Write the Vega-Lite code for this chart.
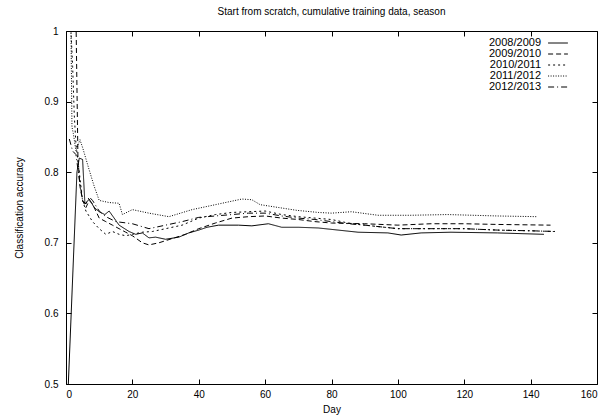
{
  "$schema": "https://vega.github.io/schema/vega-lite/v6.json",
  "width": 531,
  "height": 353,
  "autosize": "none",
  "padding": {"left": 66, "top": 31, "right": 11, "bottom": 35},
  "background": "white",
  "title": {"text": "Start from scratch, cumulative training data, season", "font": "Liberation Sans", "fontSize": 10, "fontWeight": "normal", "color": "black", "offset": 9},
  "config": {
    "view": {"stroke": null},
    "font": "Liberation Sans",
    "axis": {"grid": false, "domainColor": "black", "tickColor": "black", "labelColor": "black", "titleColor": "black", "labelFont": "Liberation Sans", "titleFont": "Liberation Sans", "labelFontSize": 10, "titleFontSize": 10, "titleFontWeight": "normal", "tickSize": -5, "domainWidth": 1, "tickWidth": 1}
  },
  "data": {"values": [
    {"s":"2008/2009","d":0.7,"v":0.5},{"s":"2008/2009","d":3.3,"v":0.8},{"s":"2008/2009","d":4,"v":0.82},{"s":"2008/2009","d":5,"v":0.818},{"s":"2008/2009","d":5.7,"v":0.755},{"s":"2008/2009","d":7,"v":0.762},{"s":"2008/2009","d":8.5,"v":0.75},{"s":"2008/2009","d":10,"v":0.744},{"s":"2008/2009","d":11.7,"v":0.74},{"s":"2008/2009","d":13,"v":0.745},{"s":"2008/2009","d":14.5,"v":0.735},{"s":"2008/2009","d":16,"v":0.725},{"s":"2008/2009","d":19,"v":0.716},{"s":"2008/2009","d":21,"v":0.712},{"s":"2008/2009","d":23,"v":0.714},{"s":"2008/2009","d":25,"v":0.707},{"s":"2008/2009","d":27,"v":0.708},{"s":"2008/2009","d":30,"v":0.705},{"s":"2008/2009","d":34,"v":0.708},{"s":"2008/2009","d":37,"v":0.714},{"s":"2008/2009","d":40,"v":0.718},{"s":"2008/2009","d":42.5,"v":0.722},{"s":"2008/2009","d":46,"v":0.725},{"s":"2008/2009","d":52,"v":0.725},{"s":"2008/2009","d":56,"v":0.724},{"s":"2008/2009","d":61,"v":0.727},{"s":"2008/2009","d":65,"v":0.722},{"s":"2008/2009","d":70,"v":0.722},{"s":"2008/2009","d":76,"v":0.721},{"s":"2008/2009","d":82,"v":0.718},{"s":"2008/2009","d":88,"v":0.715},{"s":"2008/2009","d":97,"v":0.714},{"s":"2008/2009","d":101,"v":0.711},{"s":"2008/2009","d":107,"v":0.714},{"s":"2008/2009","d":116,"v":0.715},{"s":"2008/2009","d":130,"v":0.714},{"s":"2008/2009","d":144,"v":0.712},

    {"s":"2009/2010","d":1,"v":1.1},{"s":"2009/2010","d":2,"v":1.05},{"s":"2009/2010","d":3,"v":1.02},{"s":"2009/2010","d":3.6,"v":0.82},{"s":"2009/2010","d":4.2,"v":0.78},{"s":"2009/2010","d":5,"v":0.76},{"s":"2009/2010","d":6,"v":0.75},{"s":"2009/2010","d":7,"v":0.76},{"s":"2009/2010","d":8,"v":0.755},{"s":"2009/2010","d":10,"v":0.735},{"s":"2009/2010","d":12,"v":0.73},{"s":"2009/2010","d":14,"v":0.725},{"s":"2009/2010","d":16,"v":0.72},{"s":"2009/2010","d":18,"v":0.715},{"s":"2009/2010","d":20,"v":0.71},{"s":"2009/2010","d":23,"v":0.7},{"s":"2009/2010","d":25,"v":0.697},{"s":"2009/2010","d":28,"v":0.7},{"s":"2009/2010","d":32,"v":0.706},{"s":"2009/2010","d":36,"v":0.712},{"s":"2009/2010","d":40,"v":0.72},{"s":"2009/2010","d":45,"v":0.728},{"s":"2009/2010","d":50,"v":0.735},{"s":"2009/2010","d":55,"v":0.737},{"s":"2009/2010","d":60,"v":0.738},{"s":"2009/2010","d":65,"v":0.735},{"s":"2009/2010","d":70,"v":0.733},{"s":"2009/2010","d":75,"v":0.73},{"s":"2009/2010","d":80,"v":0.728},{"s":"2009/2010","d":90,"v":0.727},{"s":"2009/2010","d":100,"v":0.725},{"s":"2009/2010","d":110,"v":0.727},{"s":"2009/2010","d":120,"v":0.727},{"s":"2009/2010","d":130,"v":0.726},{"s":"2009/2010","d":146,"v":0.725},

    {"s":"2010/2011","d":1,"v":1.05},{"s":"2010/2011","d":2,"v":0.95},{"s":"2010/2011","d":2.5,"v":0.88},{"s":"2010/2011","d":3,"v":0.84},{"s":"2010/2011","d":4,"v":0.8},{"s":"2010/2011","d":5,"v":0.76},{"s":"2010/2011","d":6,"v":0.745},{"s":"2010/2011","d":8,"v":0.73},{"s":"2010/2011","d":10,"v":0.72},{"s":"2010/2011","d":12,"v":0.712},{"s":"2010/2011","d":14,"v":0.716},{"s":"2010/2011","d":16,"v":0.712},{"s":"2010/2011","d":18,"v":0.71},{"s":"2010/2011","d":20,"v":0.712},{"s":"2010/2011","d":23,"v":0.715},{"s":"2010/2011","d":26,"v":0.716},{"s":"2010/2011","d":30,"v":0.72},{"s":"2010/2011","d":35,"v":0.725},{"s":"2010/2011","d":40,"v":0.735},{"s":"2010/2011","d":45,"v":0.74},{"s":"2010/2011","d":50,"v":0.743},{"s":"2010/2011","d":55,"v":0.744},{"s":"2010/2011","d":60,"v":0.745},{"s":"2010/2011","d":65,"v":0.74},{"s":"2010/2011","d":70,"v":0.737},{"s":"2010/2011","d":75,"v":0.735},{"s":"2010/2011","d":80,"v":0.733},{"s":"2010/2011","d":85,"v":0.728},{"s":"2010/2011","d":90,"v":0.725},{"s":"2010/2011","d":100,"v":0.72},{"s":"2010/2011","d":110,"v":0.72},{"s":"2010/2011","d":120,"v":0.72},{"s":"2010/2011","d":130,"v":0.718},{"s":"2010/2011","d":140,"v":0.717},{"s":"2010/2011","d":147,"v":0.716},

    {"s":"2011/2012","d":0.5,"v":1.05},{"s":"2011/2012","d":1.5,"v":1.0},{"s":"2011/2012","d":1.8,"v":0.864},{"s":"2011/2012","d":2.2,"v":0.855},{"s":"2011/2012","d":3,"v":0.83},{"s":"2011/2012","d":4.2,"v":0.846},{"s":"2011/2012","d":5,"v":0.835},{"s":"2011/2012","d":7,"v":0.803},{"s":"2011/2012","d":8.5,"v":0.78},{"s":"2011/2012","d":10,"v":0.76},{"s":"2011/2012","d":13,"v":0.757},{"s":"2011/2012","d":16,"v":0.756},{"s":"2011/2012","d":17,"v":0.74},{"s":"2011/2012","d":20,"v":0.747},{"s":"2011/2012","d":25,"v":0.742},{"s":"2011/2012","d":31,"v":0.737},{"s":"2011/2012","d":38,"v":0.747},{"s":"2011/2012","d":46,"v":0.755},{"s":"2011/2012","d":53,"v":0.762},{"s":"2011/2012","d":56,"v":0.761},{"s":"2011/2012","d":58.5,"v":0.754},{"s":"2011/2012","d":64,"v":0.75},{"s":"2011/2012","d":69.5,"v":0.746},{"s":"2011/2012","d":76,"v":0.743},{"s":"2011/2012","d":80,"v":0.742},{"s":"2011/2012","d":86,"v":0.744},{"s":"2011/2012","d":94,"v":0.739},{"s":"2011/2012","d":104,"v":0.739},{"s":"2011/2012","d":115,"v":0.74},{"s":"2011/2012","d":130,"v":0.738},{"s":"2011/2012","d":142,"v":0.737},

    {"s":"2012/2013","d":1,"v":0.847},{"s":"2012/2013","d":2,"v":0.83},{"s":"2012/2013","d":3,"v":0.825},{"s":"2012/2013","d":4,"v":0.79},{"s":"2012/2013","d":5,"v":0.76},{"s":"2012/2013","d":6,"v":0.755},{"s":"2012/2013","d":7,"v":0.765},{"s":"2012/2013","d":8,"v":0.76},{"s":"2012/2013","d":10,"v":0.745},{"s":"2012/2013","d":12,"v":0.737},{"s":"2012/2013","d":15,"v":0.73},{"s":"2012/2013","d":20,"v":0.727},{"s":"2012/2013","d":25,"v":0.72},{"s":"2012/2013","d":30,"v":0.725},{"s":"2012/2013","d":35,"v":0.73},{"s":"2012/2013","d":40,"v":0.736},{"s":"2012/2013","d":45,"v":0.738},{"s":"2012/2013","d":50,"v":0.74},{"s":"2012/2013","d":55,"v":0.742},{"s":"2012/2013","d":60,"v":0.742},{"s":"2012/2013","d":65,"v":0.738},{"s":"2012/2013","d":70,"v":0.735},{"s":"2012/2013","d":75,"v":0.733},{"s":"2012/2013","d":80,"v":0.73},{"s":"2012/2013","d":85,"v":0.727},{"s":"2012/2013","d":90,"v":0.725},{"s":"2012/2013","d":100,"v":0.72},{"s":"2012/2013","d":110,"v":0.72},{"s":"2012/2013","d":120,"v":0.72},{"s":"2012/2013","d":130,"v":0.718},{"s":"2012/2013","d":140,"v":0.717},{"s":"2012/2013","d":148,"v":0.716}
  ]},
  "layer": [
    {
      "mark": {"type": "line", "clip": true, "color": "black", "strokeWidth": 1},
      "encoding": {
        "x": {"field": "d", "type": "quantitative", "scale": {"domain": [0, 160], "nice": false, "zero": false}, "axis": {"title": "Day", "orient": "bottom", "values": [0,20,40,60,80,100,120,140,160], "labelPadding": 10, "titlePadding": 5}},
        "y": {"field": "v", "type": "quantitative", "scale": {"domain": [0.5, 1], "nice": false, "zero": false}, "axis": {"title": "Classification accuracy", "orient": "left", "values": [0.5,0.6,0.7,0.8,0.9,1], "format": "~g", "labelPadding": 13, "titlePadding": 20}},
        "strokeDash": {"field": "s", "type": "nominal", "scale": {"domain": ["2008/2009","2009/2010","2010/2011","2011/2012","2012/2013"], "range": [[1,0],[5,3],[2,3],[1,1.5],[6,3,1,3]]},
          "legend": {"title": null, "orient": "none", "legendX": 486, "legendY": 6, "symbolType": "M-1.8,0H1.8", "symbolSize": 121, "symbolStrokeColor": "black", "symbolFillColor": "transparent", "symbolStrokeWidth": 1, "labelAlign": "right", "labelOffset": -23, "labelFont": "Liberation Sans", "labelFontSize": 11, "labelColor": "black", "rowPadding": 0, "symbolOffset": 0, "padding": 0}}
      }
    },
    {
      "mark": {"type": "line", "clip": true, "opacity": 0},
      "encoding": {
        "x": {"field": "d", "type": "quantitative", "scale": {"domain": [0, 160], "nice": false, "zero": false}, "axis": {"title": null, "orient": "top", "labels": false, "values": [0,20,40,60,80,100,120,140,160]}},
        "y": {"field": "v", "type": "quantitative", "scale": {"domain": [0.5, 1], "nice": false, "zero": false}, "axis": {"title": null, "orient": "right", "labels": false, "values": [0.5,0.6,0.7,0.8,0.9,1]}},
        "detail": {"field": "s", "type": "nominal"}
      }
    }
  ],
  "resolve": {"axis": {"x": "independent", "y": "independent"}}
}
